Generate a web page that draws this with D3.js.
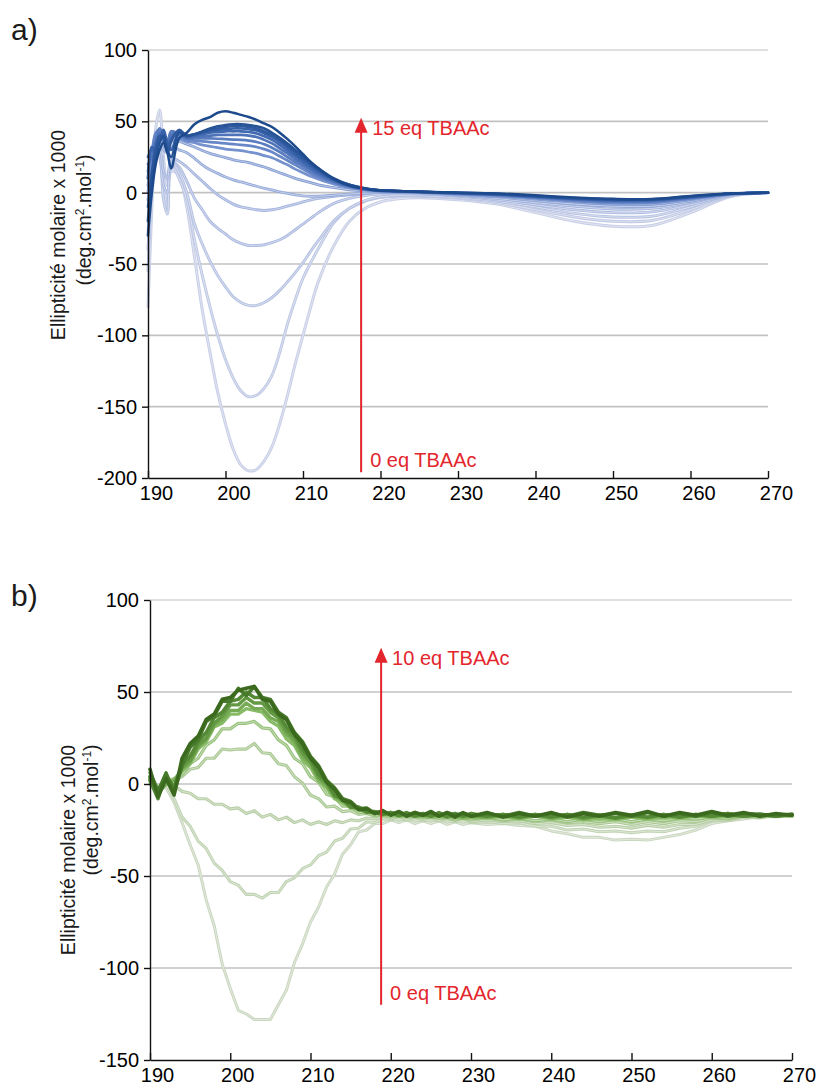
<!DOCTYPE html>
<html><head><meta charset="utf-8">
<script src="https://cdn.jsdelivr.net/npm/d3@7"></script>
<style>
body{margin:0;background:#fff}
text{font-family:"Liberation Sans",Arial,Helvetica,sans-serif}
</style>
</head><body>
<svg id="chart" width="819" height="1090"></svg>
<script>
// ---------------- DATA ----------------
const X_TICKS = [190,200,210,220,230,240,250,260,270];
const Y_TICKS_A = [-200,-150,-100,-50,0,50,100];
const Y_TICKS_B = [-150,-100,-50,0,50,100];

// Panel a : wavelengths (nm)
const WL_A = [190,190.5,191,191.5,192,192.5,193,194,195,196,197,198,199,200,201,202,203,204,205,206,207,208,209,210,211,212,214,216,218,220,222,225,230,235,240,245,250,255,260,265,270];
// Panel a : molar ellipticity x1000, 0 eq ... 15 eq TBAAc
const A0  = [-80,-10,45,58,25,5,15, 12, -10, -45,-82,-112,-140,-162,-180,-191,-195,-194,-188,-178,-162,-142,-120,-100,-80,-62, -37,-20,-11,-6.5, -4.5,-3.5,-5,-8,-14,-20,-23.5,-23,-14,-3,0];
const A1  = [-55,5,40,42,10,-12,20, 10, -5, -33,-58,-80,-100,-117,-130,-139,-143,-142,-137,-128,-112,-92,-75,-60,-49,-39, -21,-11,-6,-3.5, -2.5,-2.5,-4,-7,-12,-17,-20,-19.5,-12,-2.5,0];
const A2  = [-40,10,35,30,-5,-15,22, 14, 0, -22,-36,-48,-58,-66,-73,-77,-79,-79,-77,-73.5,-68.5,-62.5,-56,-49,-41,-33.5, -19.5,-11,-5.5,-3, -2,-2,-3.5,-6,-10,-14.5,-17,-16.5,-10,-2,0];
const A3  = [-30,15,30,25,5,0,22, 18, 8, -4,-12,-20,-25,-29,-33,-35.5,-37,-37,-36.5,-35,-33,-30,-26,-22,-18,-14, -7.5,-4,-2,-1, -0.8,-1,-2.5,-5,-8.5,-12,-14,-13.5,-8.5,-1.8,0];
const A4  = [-20,15,28,30,15,10,24, 22, 18, 13,8,3,-1.5,-5,-8,-10,-11,-12,-12.5,-12,-11,-9.5,-8,-6.5,-5,-4, -2.5,-1.5,-0.5,0, 0,-0.5,-2,-4,-7,-9.5,-11.5,-11,-7,-1.5,0];
const A5  = [-5,20,35,38,30,28,32, 30, 28, 24,19.5,16,13.5,11,9,7.5,6,4.5,3,2,0.5,-0.5,-1.5,-2.2,-2.5,-2.5, -1.8,-1,-0.3,0.2, 0.3,0,-1.5,-3,-5.5,-8,-9.5,-9.5,-6,-1.3,0];
const A6  = [0,25,38,40,35,30,36, 36, 34, 32,29.5,27.5,26,24.5,23,22,21,19.5,18,16,14,12,10,8.5,7,5.5, 3.5,2,1.2,0.8, 0.6,0.2,-1,-2.5,-4.5,-6.5,-8,-8,-5,-1.2,0];
const A7  = [5,25,40,42,38,33,40, 38, 36, 35,33.5,32.5,31.5,30.5,30,29.5,28.5,27.5,26,24.5,22,19.5,16.5,14,11.5,9.5, 6,3.5,2,1.2, 0.8,0.3,-0.8,-2,-4,-6,-7.3,-7.2,-4.5,-1,0];
const A8  = [10,28,42,44,36,35,42, 40, 37, 36.5,36,35.5,35,34.5,34,33.5,33,32,30.5,28.5,25.5,22.5,19.5,16.5,13.5,11, 7,4,2.2,1.3, 0.9,0.4,-0.6,-1.8,-3.5,-5.5,-6.7,-6.6,-4,-1,0];
const A9  = [15,30,38,45,40,36,43, 41, 38, 38,38,38,37.8,37.5,37.2,37,36.5,35.5,34,31.5,28.5,25,21.5,18.5,15,12, 7.5,4.3,2.4,1.4, 1,0.5,-0.5,-1.5,-3.2,-5,-6.2,-6.1,-3.7,-0.9,0];
const A10 = [20,25,35,42,38,30,40, 42, 38.5, 39,39.5,40,40.5,40.5,40.5,40.5,40,39,37,34.5,31,27.5,23.5,20,16.5,13, 8,4.5,2.5,1.4, 1,0.5,-0.4,-1.3,-3,-4.7,-5.8,-5.7,-3.4,-0.9,0];
const A11 = [25,30,28,38,42,32,38, 43, 39, 40,41,42,42.5,43,43,43,42.5,41.5,39.5,37,33.5,29.5,25.5,21.5,17.5,14, 8.5,4.8,2.7,1.5, 1.1,0.5,-0.3,-1.2,-2.8,-4.4,-5.4,-5.3,-3.2,-0.8,0];
const A12 = [10,32,30,36,44,35,30, 42, 39.5, 40.5,42,43,44,44.5,45,45,44.5,43.5,41.5,39,35.5,31.5,27,23,19,15, 9,5,2.8,1.5, 1.1,0.6,-0.2,-1.1,-2.6,-4.1,-5,-5,-3,-0.8,0];
const A13 = [-10,15,32,40,38,28,36, 44, 40, 41,42.5,44,45,46,46.5,46.5,46,45,43,40.5,37,33,28.5,24,20,16, 9.5,5.5,3,1.6, 1.2,0.6,-0.1,-1,-2.4,-3.9,-4.8,-4.8,-2.8,-0.7,0];
const A14 = [-20,10,25,35,40,30,25, 42, 40, 41,43,45,46.5,47.5,48,48,47.5,46.5,45,42,38.5,34.5,30,25.5,21,17, 10,5.5,3,1.6, 1.2,0.6,0,-0.8,-2.2,-3.7,-4.6,-4.6,-2.6,-0.7,0];
const A15 = [-30,0,20,30,35,28,17, 38, 42, 48,51,53,56,57,56,54.5,53,51,48.5,46,42,37.5,32.5,27,21.5,17, 9.5,5,2.8,1.5, 1.2,0.6,0,-0.5,-1.8,-3.3,-4.3,-4.4,-2.3,-0.6,0];
const SERIES_A = [A0,A1,A2,A3,A4,A5,A6,A7,A8,A9,A10,A11,A12,A13,A14,A15];

// Panel b : wavelengths (nm)
const WL_B = [190,191,192,193,194,195,196,197,198,199,200,201,202,203,204,205,206,207,208,209,210,211,212,213,214,215,216,217,218,219,220,221,222,223,224,225,226,227,228,229,230,232,234,236,238,240,242,244,246,248,250,252,254,256,258,260,262,264,266,268,270];
// Panel b : molar ellipticity x1000, 0 eq ... 10 eq TBAAc
const B0  = [1,-2,-2,-10,-21,-33,-44,-63,-77,-98, -111,-123,-125,-128,-128,-128,-120,-112,-97,-87, -75,-67,-56,-49,-38,-33,-26,-25,-21.5,-21.5, -19.5,-21,-19.5,-21.5,-20,-21.5,-20,-22,-20.5,-22, -21, -22,-21.5,-22.5,-23,-25.5,-27,-29,-29,-30.5,-30,-30.5,-29,-27.5,-25,-21.5,-20,-19,-17.5,-18,-17];
const B1  = [2,-3,0,-8,-18,-23,-31,-35,-43,-47, -53,-55,-60,-60,-62,-59,-59,-53,-51,-46, -44,-39,-37,-31,-29.5,-24.5,-24,-20.5,-21,-19, -19.5,-19,-19.5,-19.5,-20,-19.5,-20,-20,-20.5,-20, -21, -20.5,-21.5,-21,-23,-23,-25,-24.5,-26,-25.5,-26.5,-25.5,-26,-24,-23,-20,-20,-18,-18.5,-17,-17.5];
const B2  = [3,-4,1,-1,-4,-5,-8,-8,-11,-11, -13.5,-13,-16,-14.5,-18,-16.5,-19.5,-18,-21,-19.5, -22,-20.5,-22,-20,-21,-19.5,-20,-18.5,-19,-17.5, -19,-17.5,-19.5,-18,-19.5,-18,-20,-18.5,-20,-18.5, -20.5, -19.5,-20.5,-20,-21.5,-21,-22.5,-22,-23.5,-23,-24,-22.5,-23.5,-22,-22,-19.5,-19.5,-17.5,-18,-17,-17.5];
const B3  = [2,-3,1,2,4,8,9,14,14,19, 18.5,19,19,22,17,16.5,11,10,4,0.5, -6,-8,-12.5,-12,-15,-14.5,-16.5,-16,-17.5,-17, -18,-17.5,-18,-18,-18.5,-18,-18.5,-18.5,-19.5,-18.5, -19.5, -18.5,-20,-19,-20.5,-19.5,-21,-20.5,-21.5,-20.5,-22,-20.5,-21.5,-20,-20.5,-18.5,-19,-17.5,-18,-17,-17.5];
const B4  = [0,-2,1,3,5,11,14,21,24,30, 30,33,33,34,30.5,30,24,21,14,11, 4,1,-5.5,-7,-12,-12,-15.5,-15,-17,-16.5, -17.5,-17,-17.5,-17.5,-18,-18,-18.5,-18,-19,-18.5, -19, -18,-19.5,-18.5,-20,-19,-20.5,-19,-20.5,-19,-20.5,-19,-20,-18.5,-19,-18,-18.5,-17,-18,-16.5,-17.5];
const B5  = [3,-5,0,2,7,11,19,23,31,33, 38,38,41,40,39,34,31.5,24.5,21,13, 9,1.5,-2,-8,-10,-13,-13.5,-15.5,-15.5,-17, -16,-17.5,-17,-17.5,-17.5,-18,-17.5,-18,-18,-18.5, -18, -18.5,-17.5,-19,-17.5,-19,-18,-19.5,-18.5,-19.5,-18,-19,-18,-18.5,-17.5,-18,-17,-17.5,-17,-17.5,-17];
const B6  = [3,-5,0,2,8,12,20,24,32,35, 40,40,44,41,41,36,34,27,23,15, 11,3,-1,-7,-9,-12.5,-13,-15.5,-15,-16.5, -15.5,-17.5,-16,-17.5,-17,-17.5,-17,-17.5,-17.5,-18, -17.5, -18,-17,-18.5,-17,-18.5,-17,-19,-17.5,-18.5,-17.5,-18.5,-17,-18,-17,-17.5,-17,-17.5,-16.5,-17.5,-16.5];
const B7  = [6,-3,2,-1,9,13,21,25,33,37, 43,43,47,44,44,39,36,29,25,17, 12,4,0.5,-6.5,-8,-12.5,-13,-15.5,-15,-16.5, -15.5,-17,-16.5,-17.5,-16.5,-17.5,-16,-18,-16.5,-17.5, -17, -17.5,-16.5,-18,-16.5,-18,-16.5,-18.5,-17,-18.5,-17,-18,-16.5,-18,-16.5,-17.5,-16,-17.5,-16.5,-17.5,-16.5];
const B8  = [2,-8,5,-2,11,15,23,28,36,39, 45,46,50,47,47,41,38,31,27,19, 14,5.5,1.5,-6,-8,-12.5,-12.5,-15,-15,-16.5, -15.5,-17,-15.5,-17.5,-16,-17.5,-15.5,-17.5,-16,-17.5, -16, -17.5,-16.5,-18,-16.5,-18,-16.5,-18,-17,-18.5,-17,-18,-16.5,-18,-16.5,-17.5,-16,-17.5,-16.5,-17.5,-16.5];
const B9  = [4,-4,6,-5,10,20,24,34,37,45, 45,52,48,53,47,46,39,36,28,23, 15,10,2,-2,-8,-9.5,-13.5,-13,-16,-15, -16.5,-15,-17,-15.5,-17,-15,-17.5,-15.5,-17,-16, -17.5, -16,-17.5,-15.5,-17.5,-16,-17.5,-15.5,-17,-16,-17.5,-15.5,-17.5,-16,-17.5,-15.5,-17.5,-16,-16.5,-17,-16.5];
const B10 = [8,-7,3,-6,14,22,26,35,38,46, 47,51,52,53,46,45,38,35,27,22, 14,9,1,-3,-9,-10,-14,-13.5,-16,-14.5, -17,-15,-17.5,-15.5,-17,-15,-17.5,-15.5,-18,-15.5, -17.5, -15.5,-18,-16,-17.5,-15.5,-18,-16,-17.5,-15.5,-17,-15,-17.5,-15.5,-17,-15,-17,-15.5,-17.5,-16,-17];
const SERIES_B = [B0,B1,B2,B3,B4,B5,B6,B7,B8,B9,B10];

// Arrow annotations: [wavelength, bottom value, tip value]
const ARROW_A = [217.5, -196, 52.5];
const ARROW_B = [218.8, -120, 74];
const ARROW_LABELS_A = ["15 eq TBAAc", "0 eq TBAAc"];
const ARROW_LABELS_B = ["10 eq TBAAc", "0 eq TBAAc"];

// ---------------- DRAW ----------------
const svg = d3.select("#chart");
const RED = "#e3262d";

function panel(cfg) {
  const g = svg.append("g");
  const x = d3.scaleLinear().domain([190, 270]).range([cfg.x0, cfg.x1]);
  const y = d3.scaleLinear().domain(cfg.yDomain).range([cfg.yB, cfg.yT]);

  // gridlines
  g.append("g").selectAll("line")
    .data(cfg.yTicks.filter(v => v !== cfg.yDomain[0]))
    .join("line")
    .attr("x1", x(190)).attr("x2", x(270))
    .attr("y1", d => y(d)).attr("y2", d => y(d))
    .attr("stroke", d => d === cfg.yDomain[1] ? "#d6d6d6" : "#c2c2c2")
    .attr("stroke-width", 1.6);

  // curves
  const n = cfg.series.length;
  const color = d3.piecewise(d3.interpolateRgb, cfg.colors);
  const line = d3.line()
    .x((d, i) => x(cfg.wl[i]))
    .y(d => y(d))
    .curve(cfg.curve);
  const cg = g.append("g").attr("fill", "none").attr("stroke-linejoin", "round").attr("stroke-linecap", "round");
  cfg.series.forEach((s, i) => {
    const t = i / (n - 1);
    const c = color(t);
    cg.append("path").attr("d", line(s)).attr("stroke", c)
      .attr("stroke-width", cfg.width(t));
    if (t < 0.45) {
      cg.append("path").attr("d", line(s))
        .attr("stroke", d3.interpolateRgb(c, "#ffffff")(0.5))
        .attr("stroke-width", 0.9);
    }
  });

  // axes
  const ya = d3.axisLeft(y).tickValues(cfg.yTicks).tickSizeInner(6).tickSizeOuter(0)
    .tickPadding(5).tickFormat(d => String(d));
  const yg = g.append("g").attr("transform", `translate(${x(190)},0)`).call(ya);
  const xa = d3.axisBottom(x).tickValues(X_TICKS).tickSizeInner(-7).tickSizeOuter(0)
    .tickPadding(8).tickFormat(d => String(d));
  const xg = g.append("g").attr("transform", `translate(0,${y(cfg.yDomain[0])})`).call(xa);
  [yg, xg].forEach(a => {
    a.selectAll("path,line").attr("stroke", "#111").attr("stroke-width", 1.4);
    a.selectAll("text").attr("fill", "#000").style("font-size", "20px");
  });
  xg.selectAll("text").attr("dx", cfg.xdx);

  // y title
  const tg = g.append("g").attr("fill", "#1a1a1a").style("font-size", "19.5px");
  tg.append("text").attr("transform", `translate(${cfg.t1x},${cfg.t1y}) rotate(-90)`)
    .attr("text-anchor", "middle").text("Ellipticité molaire x 1000");
  const t2 = tg.append("text").attr("transform", `translate(${cfg.t2x},${cfg.t2y}) rotate(-90)`)
    .attr("text-anchor", "middle");
  t2.append("tspan").text("(deg.cm");
  t2.append("tspan").attr("dy", -7).style("font-size", "12px").text("2");
  t2.append("tspan").attr("dy", 7).text(".mol");
  t2.append("tspan").attr("dy", -7).style("font-size", "12px").text("-1");
  t2.append("tspan").attr("dy", 7).text(")");

  // panel label
  svg.append("text").attr("x", 11).attr("y", cfg.labelY).style("font-size", "30px")
    .attr("fill", "#1a1a1a").text(cfg.label);

  // arrow
  const [aw, ab, at] = cfg.arrow;
  const ax = x(aw), yTip = y(at), yBot = y(ab);
  g.append("line").attr("x1", ax).attr("x2", ax).attr("y1", yBot).attr("y2", yTip + 10)
    .attr("stroke", RED).attr("stroke-width", 2);
  g.append("path").attr("d", `M${ax},${yTip} L${ax - 6.5},${yTip + 15} L${ax + 6.5},${yTip + 15} Z`)
    .attr("fill", RED);
  g.append("text").attr("x", ax + 11).attr("y", yTip + 17).attr("fill", RED)
    .style("font-size", "20px").text(cfg.arrowLabels[0]);
  g.append("text").attr("x", ax + 9).attr("y", yBot - 5).attr("fill", RED)
    .style("font-size", "20px").text(cfg.arrowLabels[1]);
}

panel({
  x0: 148, x1: 768, yDomain: [-200, 100], yB: 478, yT: 50, yTicks: Y_TICKS_A,
  wl: WL_A, series: SERIES_A, curve: d3.curveCatmullRom.alpha(0.5),
  colors: ["#c8cfe6", "#a6b6de", "#6d8bcb", "#3e67b0", "#1d4a8c"],
  width: t => 3.0 - 0.5 * t,
  xdx: 8, t1x: 65, t1y: 235, t2x: 91, t2y: 220,
  label: "a)", labelY: 40, arrow: ARROW_A, arrowLabels: ARROW_LABELS_A
});

panel({
  x0: 150, x1: 792, yDomain: [-150, 100], yB: 1060, yT: 600, yTicks: Y_TICKS_B,
  wl: WL_B, series: SERIES_B, curve: d3.curveLinear,
  colors: ["#cad7c0", "#b2cca0", "#88bb66", "#5a913a", "#3b6a1f"],
  width: t => 3.0 + 0.6 * t,
  xdx: 7, t1x: 75, t1y: 850, t2x: 98, t2y: 810,
  label: "b)", labelY: 606, arrow: ARROW_B, arrowLabels: ARROW_LABELS_B
});
</script>
</body></html>
